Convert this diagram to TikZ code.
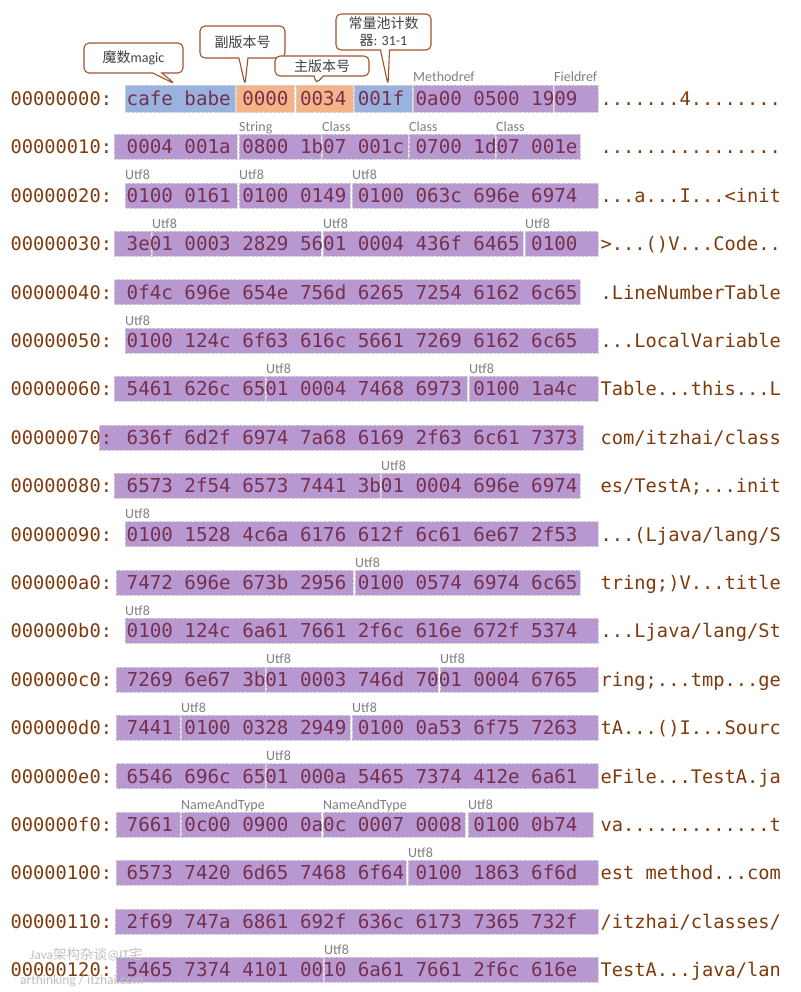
\documentclass[tikz,border=0pt]{standalone}
\usepackage{fontspec}
\setmainfont{Carlito}
\newfontfamily\cjk{Noto Sans CJK SC}
\newfontfamily\hexfont{DejaVu Sans Mono}
\usetikzlibrary{shapes.callouts}
\definecolor{addrbrown}{HTML}{7E3A0C}
\definecolor{hexink}{HTML}{76304F}
\definecolor{cppurple}{HTML}{B898D0}
\definecolor{cpblue}{HTML}{99B3DE}
\definecolor{cporange}{HTML}{F4B488}
\definecolor{notebrown}{HTML}{A0522D}
\definecolor{labgray}{HTML}{7F7F7F}
\def\bh{12.5}
\newcommand{\segbox}[5]{%
  \pgfmathsetmacro\ry{98.5+48.4*#1}%
  \draw[segline,fill=#4] (#2,\ry-\bh) rectangle (#3,\ry+\bh);%
  \ifx\relax#5\relax\else
    \node[cplabel] (lab-#1-#2) at (#2,\ry-\bh-3) {#5};%
  \fi}

\begin{document}
\begin{tikzpicture}[x=1pt,y=-1pt,
  addr/.style={anchor=base west,inner sep=0pt,text=addrbrown,font=\hexfont\fontsize{18.7}{20}\selectfont},
  hex/.style={anchor=base west,inner sep=0pt,text=hexink,font=\hexfont\fontsize{19.2}{20}\selectfont},
  ascii/.style={addr},
  segline/.style={draw=white!65!gray,densely dotted,line width=0.3pt},
  cplabel/.style={anchor=base west,inner sep=0pt,text=labgray,font=\fontsize{14}{16}\selectfont},
  note/.style={rectangle callout,draw=notebrown,fill=white,line width=1.1pt,rounded corners=5pt,
    inner sep=0pt,align=center,text=black!75,font=\fontsize{14}{17}\selectfont,callout pointer width=9pt},
  wmark/.style={anchor=west,inner sep=0pt,text=gray!50,font=\fontsize{13.5}{16}\selectfont}]
\useasboundingbox (0,0) rectangle (800,992);

\foreach \i/\addr in {0/00000000,1/00000010,2/00000020,3/00000030,4/00000040,5/00000050,
  6/00000060,7/00000070,8/00000080,9/00000090,10/000000a0,11/000000b0,12/000000c0,
  13/000000d0,14/000000e0,15/000000f0,16/00000100,17/00000110,18/00000120}
  \node[addr] (addr-\i) at (10.5,{98.5+48.4*\i+7}) {\addr:};

\def\bh{13.5}
\segbox{0}{125}{235}{cpblue}{}
\segbox{0}{236}{294}{cporange}{}
\segbox{0}{296}{353}{cporange}{}
\segbox{0}{354}{412}{cpblue}{}
\segbox{0}{413}{553}{cppurple}{Methodref}
\segbox{0}{554}{598}{cppurple}{Fieldref}
\def\bh{12.5}
\segbox{1}{114}{237}{cppurple}{}
\segbox{1}{239}{321}{cppurple}{String}
\segbox{1}{322}{408}{cppurple}{Class}
\segbox{1}{409}{495}{cppurple}{Class}
\segbox{1}{496}{580}{cppurple}{Class}
\segbox{2}{125}{237}{cppurple}{Utf8}
\segbox{2}{239}{350}{cppurple}{Utf8}
\segbox{2}{352}{598}{cppurple}{Utf8}
\segbox{3}{114}{151}{cppurple}{}
\segbox{3}{152}{321}{cppurple}{Utf8}
\segbox{3}{323}{523}{cppurple}{Utf8}
\segbox{3}{525}{598}{cppurple}{Utf8}
\segbox{4}{114}{580}{cppurple}{}
\segbox{5}{125}{598}{cppurple}{Utf8}
\segbox{6}{114}{265}{cppurple}{}
\segbox{6}{266}{467}{cppurple}{Utf8}
\segbox{6}{469}{598}{cppurple}{Utf8}
\segbox{7}{99}{583}{cppurple}{}
\segbox{8}{114}{380}{cppurple}{}
\segbox{8}{381}{580}{cppurple}{Utf8}
\segbox{9}{125}{598}{cppurple}{Utf8}
\segbox{10}{116}{353}{cppurple}{}
\segbox{10}{355}{580}{cppurple}{Utf8}
\segbox{11}{125}{598}{cppurple}{Utf8}
\segbox{12}{116}{265}{cppurple}{}
\segbox{12}{266}{438}{cppurple}{Utf8}
\segbox{12}{440}{598}{cppurple}{Utf8}
\segbox{13}{116}{180}{cppurple}{}
\segbox{13}{181}{350}{cppurple}{Utf8}
\segbox{13}{352}{598}{cppurple}{Utf8}
\segbox{14}{116}{265}{cppurple}{}
\segbox{14}{266}{598}{cppurple}{Utf8}
\segbox{15}{116}{180}{cppurple}{}
\segbox{15}{181}{321}{cppurple}{NameAndType}
\segbox{15}{323}{465}{cppurple}{NameAndType}
\segbox{15}{468}{593}{cppurple}{Utf8}
\segbox{16}{116}{406}{cppurple}{}
\segbox{16}{408}{598}{cppurple}{Utf8}
\segbox{17}{115}{598}{cppurple}{}
\segbox{18}{116}{323}{cppurple}{}
\segbox{18}{324}{598}{cppurple}{Utf8}

\begin{scope}
\clip (99,{98.5+48.4*7-12.5}) rectangle (583,{98.5+48.4*7+12.5});
\node[addr,text=hexink] (addr-7-in) at (10.5,{98.5+48.4*7+7}) {00000070:};
\end{scope}

\foreach \i/\hex/\asc in {
  0/{cafe babe 0000 0034 001f 0a00 0500 1909}/{.......4........},
  1/{0004 001a 0800 1b07 001c 0700 1d07 001e}/{................},
  2/{0100 0161 0100 0149 0100 063c 696e 6974}/{...a...I...<init},
  3/{3e01 0003 2829 5601 0004 436f 6465 0100}/{>...()V...Code..},
  4/{0f4c 696e 654e 756d 6265 7254 6162 6c65}/{.LineNumberTable},
  5/{0100 124c 6f63 616c 5661 7269 6162 6c65}/{...LocalVariable},
  6/{5461 626c 6501 0004 7468 6973 0100 1a4c}/{Table...this...L},
  7/{636f 6d2f 6974 7a68 6169 2f63 6c61 7373}/{com/itzhai/class},
  8/{6573 2f54 6573 7441 3b01 0004 696e 6974}/{es/TestA;...init},
  9/{0100 1528 4c6a 6176 612f 6c61 6e67 2f53}/{...(Ljava/lang/S},
  10/{7472 696e 673b 2956 0100 0574 6974 6c65}/{tring;)V...title},
  11/{0100 124c 6a61 7661 2f6c 616e 672f 5374}/{...Ljava/lang/St},
  12/{7269 6e67 3b01 0003 746d 7001 0004 6765}/{ring;...tmp...ge},
  13/{7441 0100 0328 2949 0100 0a53 6f75 7263}/{tA...()I...Sourc},
  14/{6546 696c 6501 000a 5465 7374 412e 6a61}/{eFile...TestA.ja},
  15/{7661 0c00 0900 0a0c 0007 0008 0100 0b74}/{va.............t},
  16/{6573 7420 6d65 7468 6f64 0100 1863 6f6d}/{est method...com},
  17/{2f69 747a 6861 692f 636c 6173 7365 732f}/{/itzhai/classes/},
  18/{5465 7374 4101 0010 6a61 7661 2f6c 616e}/{TestA...java/lan}}
{
  \node[hex] (hex-\i) at (126.5,{98.5+48.4*\i+7}) {\hex};
  \node[ascii] (asc-\i) at (600.5,{98.5+48.4*\i+7}) {\asc};
}

\node[note,minimum width=99pt,minimum height=30pt,callout absolute pointer={(175,84)}] (magic) at (133.5,58) {{\cjk 魔数}magic};
\node[note,minimum width=85pt,minimum height=32pt,callout absolute pointer={(245,85)}] (minor) at (242.5,42) {\cjk 副版本号};
\node[note,minimum width=94pt,minimum height=20pt,callout absolute pointer={(316,84)}] (major) at (322,66) {\cjk 主版本号};
\node[note,minimum width=95pt,minimum height=36pt,callout absolute pointer={(388,85)}] (cpcount) at (383.5,32) {{\cjk 常量池计数}\\{\cjk 器}: 31-1};

\node[wmark] (mark-a) at (30,955) {Java{\cjk 架构杂谈}@IT{\cjk 宅}};
\node[wmark] (mark-b) at (20,981) {arthinking / itzhai.com};
\end{tikzpicture}
\end{document}
